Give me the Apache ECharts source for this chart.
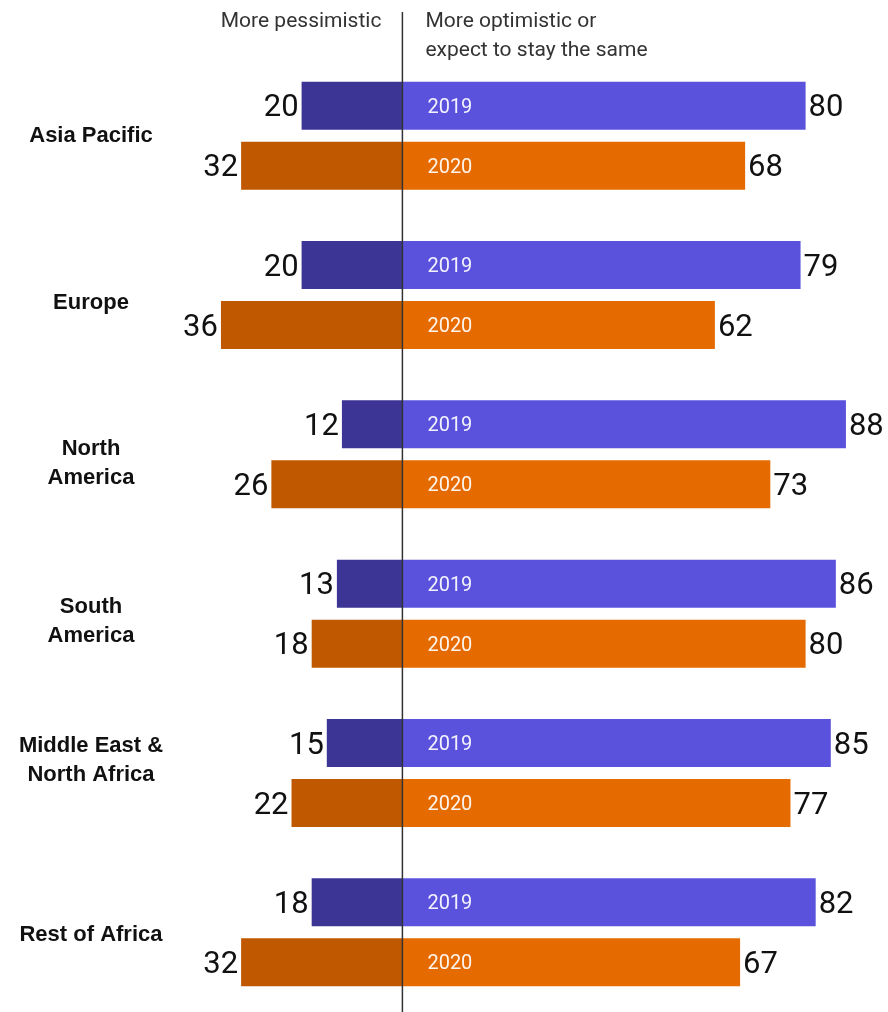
<!DOCTYPE html>
<html><head><meta charset="utf-8">
<script src="https://cdn.jsdelivr.net/npm/echarts@6/dist/echarts.min.js"></script>
<style>html,body{margin:0;padding:0;background:#fff}#c{width:888px;height:1012px}</style>
</head><body><div id="c"></div>
<script>
const regions = ['Asia Pacific', 'Europe', 'North\nAmerica', 'South\nAmerica', 'Middle East &\nNorth Africa', 'Rest of Africa'];
const pess2019 = [20, 20, 12, 13, 15, 18];
const opt2019 = [80, 79, 88, 86, 85, 82];
const pess2020 = [32, 36, 26, 18, 22, 32];
const opt2020 = [68, 62, 73, 80, 77, 67];
const years = ['2019', '2020'];
const headLeft = 'More pessimistic';
const headRight = ['More optimistic or', 'expect to stay the same'];

// visual nudges of the region labels (px, down positive)
const labelShift = [0, 8, 9, 8, -13, 3];

const C = { p19: '#3c3595', o19: '#5a52dc', p20: '#c05800', o20: '#e56b00' };
const numLabel = { color: '#111', fontSize: 31, fontFamily: 'Roboto', distance: 3, offset: [0, 3] };
const yearLabel = { color: 'rgba(255,255,255,0.92)', fontSize: 20, fontFamily: 'Roboto', offset: [0, 2] };

const chart = echarts.init(document.getElementById('c'), null, { renderer: 'canvas' });

function mk(name, stack, values, color, label) {
  return { name, type: 'bar', stack, barWidth: 48, barGap: '25%', data: values,
    itemStyle: { color }, label, emphasis: { disabled: true }, animation: false };
}

chart.setOption({
  animation: false,
  grid: { left: 100, right: 32, top: 56, bottom: 0, containLabel: false, outerBoundsMode: 'none' },
  xAxis: { type: 'value', min: -60, max: 90, show: false },
  yAxis: {
    type: 'category', inverse: true, data: regions,
    axisLine: { show: false }, axisTick: { show: false }, axisLabel: { show: false }
  },
  series: [
    mk('y19', 'a', pess2019.map(() => 0), 'transparent',
      Object.assign({ show: true, position: 'right', distance: 25, formatter: years[0] }, yearLabel)),
    mk('p19', 'a', pess2019.map(v => -v), C.p19,
      Object.assign({ show: true, position: 'left', formatter: p => String(-p.value) }, numLabel)),
    mk('o19', 'a', opt2019, C.o19,
      Object.assign({ show: true, position: 'right' }, numLabel)),
    mk('y20', 'b', pess2020.map(() => 0), 'transparent',
      Object.assign({ show: true, position: 'right', distance: 25, formatter: years[1] }, yearLabel)),
    mk('p20', 'b', pess2020.map(v => -v), C.p20,
      Object.assign({ show: true, position: 'left', formatter: p => String(-p.value) }, numLabel)),
    mk('o20', 'b', opt2020, C.o20,
      Object.assign({ show: true, position: 'right' }, numLabel))
  ]
});

const x0 = chart.convertToPixel({ xAxisIndex: 0 }, 0);
const headStyle = { fill: '#333', fontSize: 21, fontFamily: 'Roboto' };
const catStyle = { fill: '#111', fontSize: 22, fontFamily: 'Liberation Sans', fontWeight: 'bold',
  lineHeight: 29, align: 'center', verticalAlign: 'middle' };
const catTexts = regions.map((r, i) => ({
  type: 'text', x: 91, y: chart.convertToPixel({ yAxisIndex: 0 }, r) + labelShift[i],
  style: Object.assign({ text: r }, catStyle)
}));
chart.setOption({
  graphic: [
    { type: 'line', shape: { x1: x0, y1: 12, x2: x0, y2: 1012 }, style: { stroke: '#333', lineWidth: 1.5 }, z: 100 },
    { type: 'text', x: x0 - 21, y: 22, style: Object.assign({ text: headLeft, align: 'right', verticalAlign: 'middle' }, headStyle) },
    { type: 'text', x: x0 + 23, y: 22, style: Object.assign({ text: headRight[0], align: 'left', verticalAlign: 'middle' }, headStyle) },
    { type: 'text', x: x0 + 23, y: 51, style: Object.assign({ text: headRight[1], align: 'left', verticalAlign: 'middle' }, headStyle) }
  ].concat(catTexts)
});
</script></body></html>
